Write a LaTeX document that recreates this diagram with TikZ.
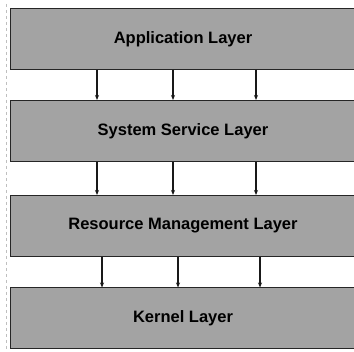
\documentclass[tikz,border=0pt]{standalone}
\usepackage{fontspec}
\setmainfont{Liberation Sans}
\usetikzlibrary{arrows.meta}
\begin{document}
\begin{tikzpicture}[x=1pt,y=-1pt,
  layer/.style={draw=black!85,line width=1pt,fill=black!36,minimum width=346pt,minimum height=61pt,inner sep=0pt,font=\bfseries\fontsize{16.5}{19}\selectfont},
  conn/.style={draw=black!90,line width=1.3pt,-{Stealth[length=5pt,width=4pt]}}]
\useasboundingbox (0,0) rectangle (354,352);
\draw[black!25,dashed,line width=0.5pt] (6,4) -- (6,350);
\node[layer] (app) at (183,39) {Application Layer};
\node[layer] (sys) at (183,131) {System Service Layer};
\node[layer] (res) at (183,226) {Resource Management Layer};
\node[layer] (ker) at (183,318.5) {Kernel Layer};
\foreach \x in {97,173,256}{
  \draw[conn] (app.south -| \x,0) -- (sys.north -| \x,0);
  \draw[conn] (sys.south -| \x,0) -- (res.north -| \x,0);
}
\foreach \x in {102,178,260}{
  \draw[conn] (res.south -| \x,0) -- (ker.north -| \x,0);
}
\end{tikzpicture}
\end{document}
